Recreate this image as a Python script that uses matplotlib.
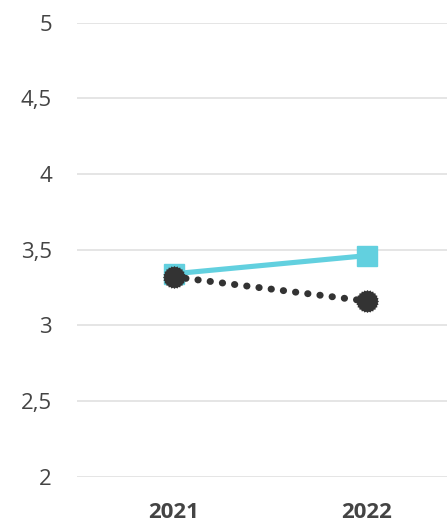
import matplotlib
matplotlib.use('Agg')
import matplotlib.pyplot as plt
import numpy as np
from matplotlib.path import Path

years = ['2021', '2022']
series_a = [3.34, 3.46]
series_b = [3.32, 3.16]
y_ticks = [2, 2.5, 3, 3.5, 4, 4.5, 5]
y_labels = ['2', '2,5', '3', '3,5', '4', '4,5', '5']

plt.rcParams['font.family'] = ['Open Sans', 'DejaVu Sans']

# circle with a slightly jagged rim, like the reference marker
teeth = 24
ang = np.linspace(0, 2*np.pi, teeth*2, endpoint=False)
rad = np.where(np.arange(teeth*2) % 2 == 0, 1.0, 0.9)
verts = np.column_stack([rad*np.cos(ang), rad*np.sin(ang)])
verts = np.vstack([verts, verts[:1]])
gear = Path(verts, closed=True)

fig = plt.figure(figsize=(4.47, 5.22), dpi=100)
ax = fig.add_axes([77/447, 0.087, 386/447, 0.8697])

x = range(len(years))
ax.plot(x, series_a, color='#62d0df', lw=3.7, marker='s', ms=15,
        solid_capstyle='butt', zorder=3)
ax.plot(x, series_b, color='#333333', lw=5, ls=(0, (0.05, 1.72)),
        dash_capstyle='round', marker=gear, ms=16.5, mew=0, zorder=4)

ax.set_xlim(-0.5, 1.5)
ax.set_ylim(2, 5)
ax.set_yticks(y_ticks)
ax.set_yticklabels(y_labels)
ax.set_xticks(list(x))
ax.set_xticklabels(years, fontweight='bold')
ax.grid(axis='y', color='#e0e0e0', lw=1.2)
ax.set_axisbelow(True)
for s in ax.spines.values():
    s.set_visible(False)
ax.tick_params(length=0, labelsize=16, labelcolor='#444444')
ax.tick_params(axis='y', pad=18)
ax.tick_params(axis='x', pad=18)
for lab in ax.get_yticklabels():
    lab.set_horizontalalignment('right')

fig.savefig('out.png', dpi=100)
